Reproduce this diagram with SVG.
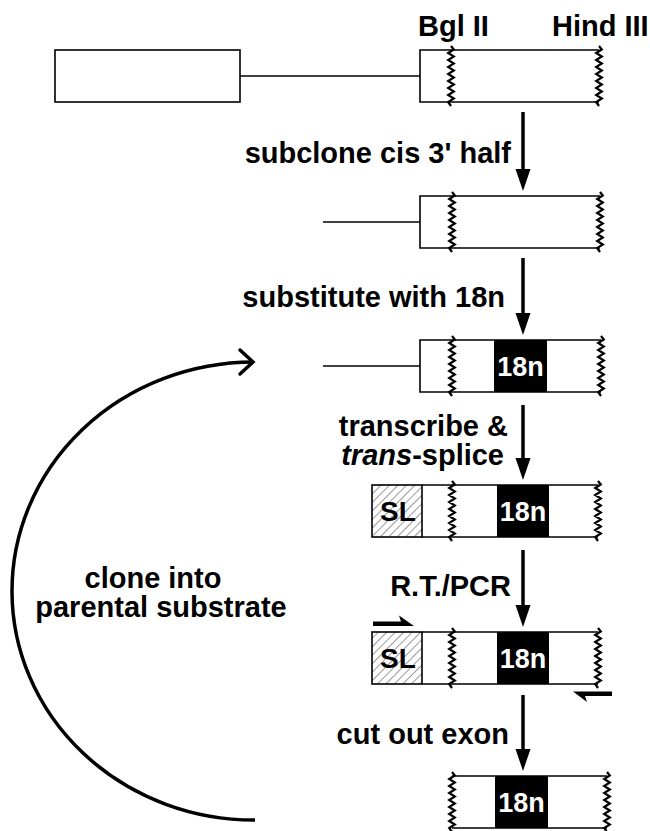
<svg xmlns="http://www.w3.org/2000/svg" xmlns:xlink="http://www.w3.org/1999/xlink" width="650" height="831" viewBox="0 0 650 831">
<style>
.t{font-family:"Liberation Sans",Arial,sans-serif;font-weight:bold;font-size:29px;fill:#000}
.w{font-family:"Liberation Sans",Arial,sans-serif;font-weight:bold;font-size:27px;fill:#fff;text-anchor:middle}
.sl{font-family:"Liberation Sans",Arial,sans-serif;font-weight:bold;font-size:28px;fill:#000;text-anchor:middle}
.ln{fill:none;stroke:#000;stroke-width:1.6}
.zz{fill:none;stroke:#000;stroke-width:2.2}
.box{fill:#000}
.sh{stroke:#000;stroke-width:3.5;fill:none}
.hd{fill:#000}
</style>
<defs>
<polyline id="zig" points="0,-4 2.8,-0.5 -2.8,3 2.8,6.5 -2.8,10 2.8,13.5 -2.8,17 2.8,20.5 -2.8,24 2.8,27.5 -2.8,31 2.8,34.5 -2.8,38 2.8,41.5 -2.8,45 2.8,48.5 -2.8,52 0,56"/>
<pattern id="hatch" width="6" height="6" patternUnits="userSpaceOnUse" patternTransform="rotate(45)">
<line x1="0" y1="0" x2="0" y2="6" stroke="#333" stroke-width="1"/>
</pattern>
</defs>
<g id="labels">
<text class="t" x="418" y="36">Bgl II</text>
<text class="t" x="552" y="36">Hind III</text>
</g>
<g id="row1">
<rect class="ln" x="55" y="50" width="185" height="52"/>
<line class="ln" x1="240" y1="76" x2="420" y2="76"/>
<path class="ln" d="M599,50 H420 V102 H599"/>
<use xlink:href="#zig" class="zz" x="451" y="50"/>
<use xlink:href="#zig" class="zz" x="599" y="50"/>
</g>
<g id="row2">
<line class="ln" x1="323" y1="222" x2="420" y2="222"/>
<path class="ln" d="M600,196 H420 V248 H600"/>
<use xlink:href="#zig" class="zz" x="452" y="196"/>
<use xlink:href="#zig" class="zz" x="600" y="196"/>
</g>
<g id="row3">
<line class="ln" x1="323" y1="366" x2="420" y2="366"/>
<path class="ln" d="M601,340 H420 V392 H601"/>
<rect class="box" x="494" y="340" width="53" height="52"/>
<text class="w" x="520.5" y="376">18n</text>
<use xlink:href="#zig" class="zz" x="452" y="340"/>
<use xlink:href="#zig" class="zz" x="601" y="340"/>
</g>
<g id="row4">
<rect x="372" y="485" width="50" height="52" fill="url(#hatch)" stroke="#000" stroke-width="1.6"/>
<text class="sl" x="398" y="521">SL</text>
<path class="ln" d="M422,485 H598 M422,537 H598"/>
<rect class="box" x="497" y="485" width="52" height="52"/>
<text class="w" x="523" y="521">18n</text>
<use xlink:href="#zig" class="zz" x="452" y="485"/>
<use xlink:href="#zig" class="zz" x="598" y="485"/>
</g>
<g id="row5">
<rect x="372" y="632" width="50" height="52" fill="url(#hatch)" stroke="#000" stroke-width="1.6"/>
<text class="sl" x="398" y="668">SL</text>
<path class="ln" d="M422,632 H598 M422,684 H598"/>
<rect class="box" x="497" y="632" width="52" height="52"/>
<text class="w" x="523" y="668">18n</text>
<use xlink:href="#zig" class="zz" x="452" y="632"/>
<use xlink:href="#zig" class="zz" x="598" y="632"/>
<path class="hd" d="M373,621.5 L401,621.5 L399,615.5 L414,626 L373,626 Z"/>
<path class="hd" d="M612,691.5 L573,691.5 L587,702 L585,696 L612,696 Z"/>
</g>
<g id="row6">
<path class="ln" d="M452,776 H607 M452,828 H607"/>
<rect class="box" x="495" y="776" width="53" height="52"/>
<text class="w" x="521.5" y="812">18n</text>
<use xlink:href="#zig" class="zz" x="452" y="776"/>
<use xlink:href="#zig" class="zz" x="607" y="776"/>
</g>
<g id="steps">
<text class="t" x="511" y="163" text-anchor="end">subclone cis 3' half</text>
<text class="t" x="505" y="307" text-anchor="end">substitute with 18n</text>
<text class="t" x="508" y="436" text-anchor="end">transcribe &amp;</text>
<text class="t" x="504" y="465" text-anchor="end"><tspan font-style="italic">trans</tspan>-splice</text>
<text class="t" x="511" y="596" text-anchor="end">R.T./PCR</text>
<text class="t" x="509" y="744" text-anchor="end">cut out exon</text>
<text class="t" x="153" y="588" text-anchor="middle">clone into</text>
<text class="t" x="161" y="617" text-anchor="middle">parental substrate</text>
</g>
<g id="connectors">
<line class="sh" x1="523" y1="112" x2="523" y2="175"/>
<path class="hd" d="M515.5,169 L530.5,169 L523,191 Z"/>
<line class="sh" x1="523" y1="258" x2="523" y2="319"/>
<path class="hd" d="M515.5,313 L530.5,313 L523,335 Z"/>
<line class="sh" x1="523" y1="405" x2="523" y2="464"/>
<path class="hd" d="M515.5,458 L530.5,458 L523,480 Z"/>
<line class="sh" x1="523" y1="550" x2="523" y2="611"/>
<path class="hd" d="M515.5,605 L530.5,605 L523,627 Z"/>
<line class="sh" x1="523" y1="695" x2="523" y2="755"/>
<path class="hd" d="M515.5,749 L530.5,749 L523,771 Z"/>
<path class="sh" d="M255,820 A242,229 0 0 1 253,362"/>
<path class="sh" d="M240,350 L253,362 L240,374" stroke-linecap="round"/>
</g>
</svg>
